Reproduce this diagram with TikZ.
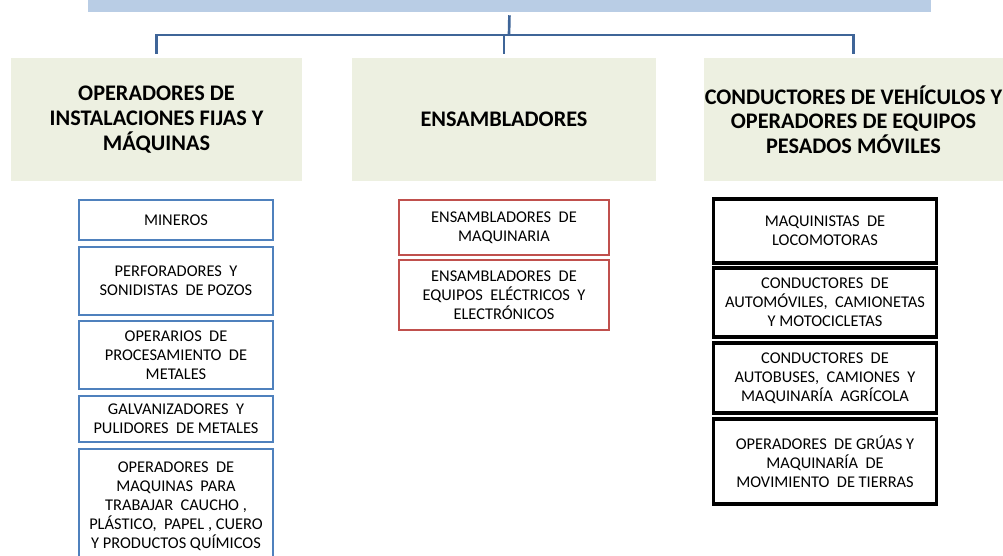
\documentclass[tikz,border=0pt]{standalone}
\usepackage{fontspec}
\setmainfont{Carlito}
\usetikzlibrary{positioning}
\definecolor{barblue}{HTML}{B9CDE5}
\definecolor{linkblue}{HTML}{3F6598}
\definecolor{headfill}{HTML}{EDF0E1}
\definecolor{boxblue}{HTML}{4F81BD}
\definecolor{boxred}{HTML}{C0504D}

\begin{document}
\begin{tikzpicture}[x=0.75pt,y=-0.75pt,%
		   titlebar/.style={fill=barblue,minimum width=843*0.75pt,minimum height=42*0.75pt,inner sep=0pt},
		   header/.style={fill=headfill,align=center,inner sep=0pt,minimum height=123*0.75pt,font=\bfseries\fontsize{16.7}{18.5}\selectfont},
		   item/.style={draw,fill=white,align=center,inner sep=0pt,font=\fontsize{12.3}{14.3}\selectfont},
		   link/.style={draw=linkblue,line width=2pt}]

	\useasboundingbox (0,0) rectangle (1003,556);
	\clip (0,0) rectangle (1003,556);

	% title bar and the three groups
	\node[titlebar] (top) at (509.5,-9) {};
	\node[header,minimum width=291*0.75pt] (h1) at (156.5,119.5) {OPERADORES DE\\INSTALACIONES FIJAS Y\\MÁQUINAS};
	\node[header,minimum width=304*0.75pt] (h2) at (504,119.5) {ENSAMBLADORES};
	\node[header,minimum width=299*0.75pt] (h3) at (853.5,119.5) {CONDUCTORES DE VEHÍCULOS Y\\OPERADORES DE EQUIPOS\\PESADOS MÓVILES};

	\coordinate (hub) at (509,35);
	\draw[link,shorten <=3*0.75pt] (top.south) -- (hub);
	\foreach \h in {h1,h2,h3}
	    \draw[link,shorten >=4*0.75pt] (hub) -| (\h.north);

	% first column
	\foreach \t/\b/\desc [count=\i] in {%
		200/240/MINEROS,
		247/315/{PERFORADORES~ Y\\SONIDISTAS~ DE POZOS},
		321/389/{OPERARIOS~ DE\\PROCESAMIENTO~ DE\\METALES},
		396/442/{GALVANIZADORES~ Y\\PULIDORES~ DE METALES},
		449/564/{OPERADORES~ DE\\MAQUINAS~ PARA\\TRABAJAR~ CAUCHO ,\\PLÁSTICO,~ PAPEL , CUERO\\Y PRODUCTOS QUÍMICOS}%
	    } { \node[item,draw=boxblue,line width=2.2pt,minimum width=194*0.75pt,minimum height={(\b-\t)*0.75pt}]
		    (l-\i) at (176,{(\t+\b)/2}) {\desc};
	    }

	% second column
	\foreach \t/\b/\desc [count=\i] in {%
		200/255/{ENSAMBLADORES~ DE\\MAQUINARIA},
		260/330/{ENSAMBLADORES~ DE\\EQUIPOS~ ELÉCTRICOS~ Y\\ELECTRÓNICOS}%
	    } { \node[item,draw=boxred,line width=2.2pt,minimum width=210*0.75pt,minimum height={(\b-\t)*0.75pt}]
		    (m-\i) at (504,{(\t+\b)/2}) {\desc};
	    }

	% third column
	\foreach \t/\b/\desc [count=\i] in {%
		199/263/{MAQUINISTAS~ DE\\LOCOMOTORAS},
		268/337/{CONDUCTORES~ DE\\AUTOMÓVILES,~ CAMIONETAS\\Y MOTOCICLETAS},
		343/413/{CONDUCTORES~ DE\\AUTOBUSES,~ CAMIONES~ Y\\MAQUINARÍA~ AGRÍCOLA},
		419/504/{OPERADORES~ DE GRÚAS Y\\MAQUINARÍA~ DE\\MOVIMIENTO~ DE TIERRAS}%
	    } { \node[item,draw=black,line width=2.6pt,minimum width=223*0.75pt,minimum height={(\b-\t)*0.75pt}]
		    (r-\i) at (825,{(\t+\b)/2}) {\desc};
	    }
\end{tikzpicture}
\end{document}
